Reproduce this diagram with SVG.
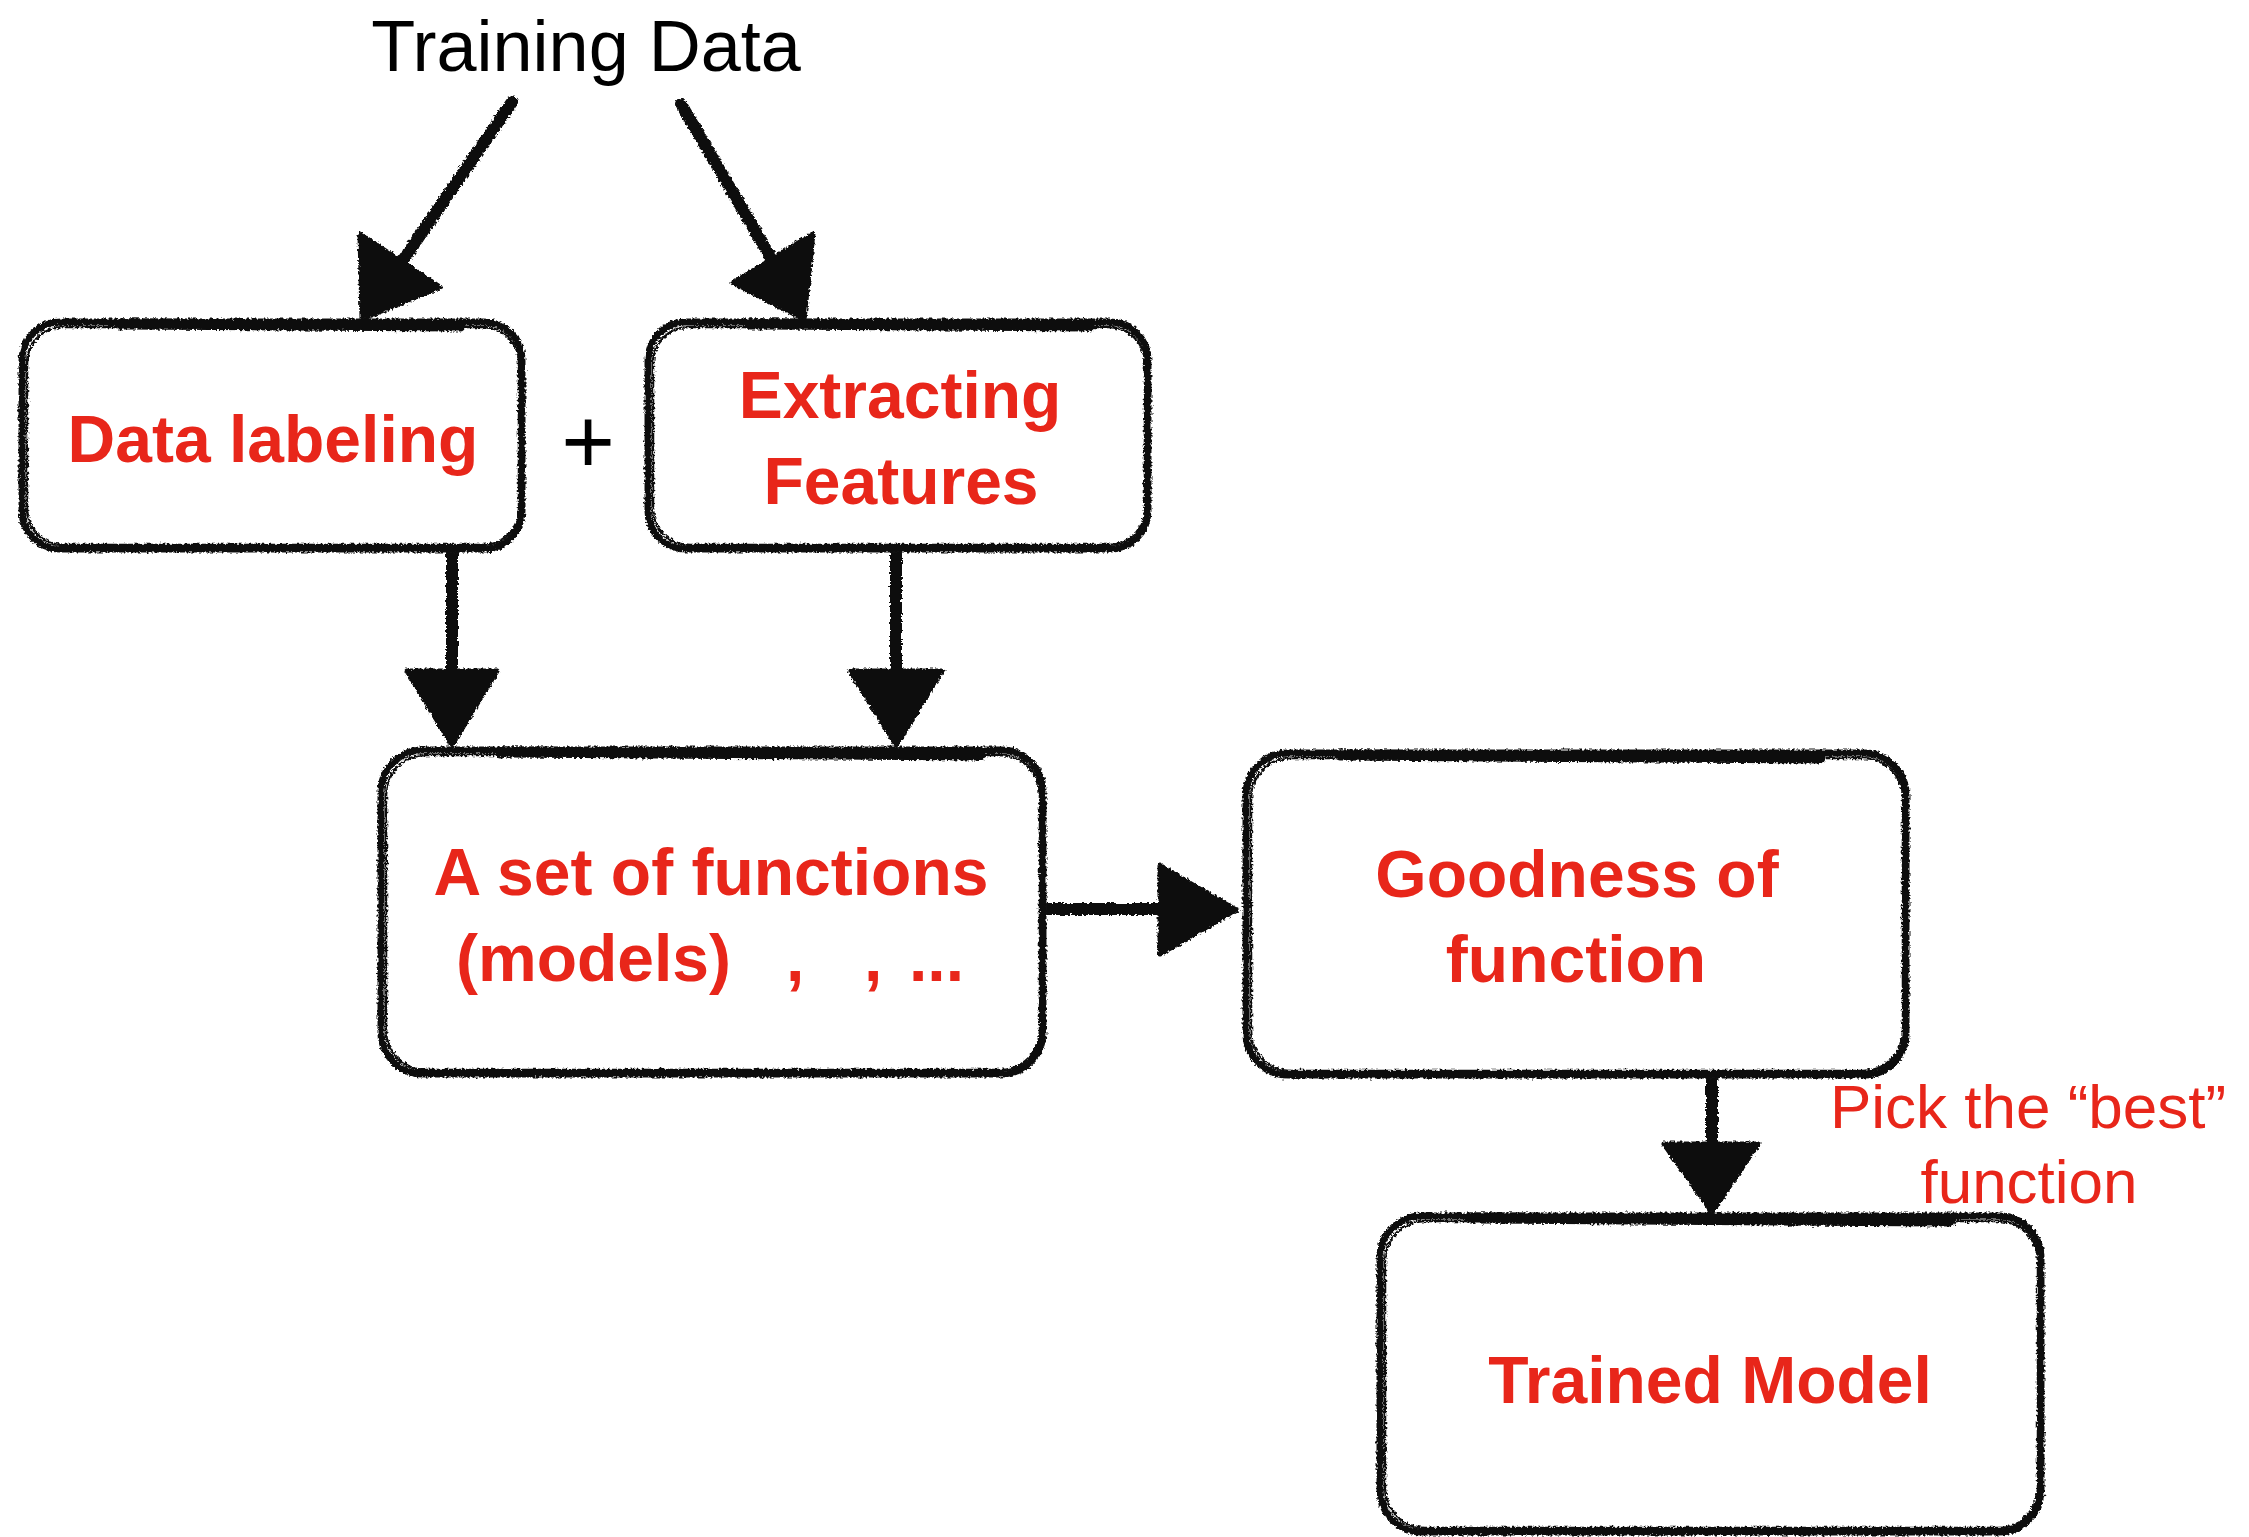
<svg xmlns="http://www.w3.org/2000/svg" width="2249" height="1537" viewBox="0 0 2249 1537">
  <defs>
    <filter id="rough" x="-5%" y="-5%" width="110%" height="110%">
      <feTurbulence type="fractalNoise" baseFrequency="0.4" numOctaves="2" seed="3" result="n"/>
      <feDisplacementMap in="SourceGraphic" in2="n" scale="5" xChannelSelector="R" yChannelSelector="G"/>
    </filter>
  </defs>
  <style>
    .box { fill: none; stroke: #111; stroke-width: 7; }
    .box2 { fill: none; stroke: #111; stroke-width: 2.5; }
    .topedge { fill: none; stroke: #111; stroke-width: 11; stroke-linecap: round; }
    .lbl { font-family: "Liberation Sans", Arial, sans-serif; font-weight: bold; font-size: 66px; fill: #E8261A; text-anchor: middle; }
    .note { font-family: "Liberation Sans", Arial, sans-serif; font-size: 62px; fill: #E8261A; text-anchor: middle; }
    .blk { font-family: "Liberation Sans", Arial, sans-serif; font-size: 72px; fill: #000; text-anchor: middle; }
    .shaft { fill: none; stroke: #111; stroke-width: 12; stroke-linecap: round; }
    .head { fill: #111; stroke: #111; stroke-width: 5; stroke-linejoin: round; }
  </style>
  <rect width="2249" height="1537" fill="#fff"/>

  <text class="blk" x="586" y="71">Training Data</text>
  <text class="blk" x="588" y="473" style="font-size:92px">+</text>

  <g id="connectors" filter="url(#rough)">
    <line class="shaft" x1="512" y1="102" x2="392" y2="276"/>
    <polygon class="head" points="362,319 360,234 440,287"/>
    <line class="shaft" x1="681" y1="104" x2="785" y2="282"/>
    <polygon class="head" points="804,319 813,234 733,283"/>
    <line class="shaft" x1="452" y1="552" x2="452" y2="690"/>
    <polygon class="head" points="407,671 497,671 452,745"/>
    <line class="shaft" x1="896" y1="552" x2="896" y2="690"/>
    <polygon class="head" points="850,671 942,671 896,745"/>
    <line class="shaft" x1="1047" y1="909" x2="1180" y2="909"/>
    <polygon class="head" points="1160,866 1160,954 1236,910"/>
    <line class="shaft" x1="1712" y1="1079" x2="1712" y2="1160"/>
    <polygon class="head" points="1664,1144 1758,1144 1712,1212"/>
  </g>

  <g id="node-data-labeling">
    <g filter="url(#rough)">
      <rect class="box" x="22" y="322" width="500" height="227" rx="38"/>
      <rect class="box2" x="27" y="327" width="492" height="218" rx="36"/>
      <line class="topedge" x1="120" y1="324" x2="460" y2="326"/>
    </g>
    <text class="lbl" x="273" y="462">Data labeling</text>
  </g>

  <g id="node-extracting-features">
    <g filter="url(#rough)">
      <rect class="box" x="648" y="322" width="500" height="227" rx="38"/>
      <rect class="box2" x="653" y="327" width="492" height="218" rx="36"/>
      <line class="topedge" x1="750" y1="324" x2="1090" y2="326"/>
    </g>
    <text class="lbl" x="900" y="418">Extracting</text>
    <text class="lbl" x="901" y="504">Features</text>
  </g>

  <g id="node-set-of-functions">
    <g filter="url(#rough)">
      <rect class="box" x="381" y="750" width="662" height="324" rx="42"/>
      <rect class="box2" x="386" y="755" width="654" height="315" rx="40"/>
      <line class="topedge" x1="500" y1="752" x2="980" y2="755"/>
    </g>
    <text class="lbl" x="711" y="895">A set of functions</text>
    <text class="lbl" style="text-anchor:start" y="981"><tspan x="456">(models)</tspan><tspan x="786">,</tspan><tspan x="864">,</tspan><tspan x="909">...</tspan></text>
  </g>

  <g id="node-goodness">
    <g filter="url(#rough)">
      <rect class="box" x="1246" y="753" width="660" height="322" rx="42"/>
      <rect class="box2" x="1251" y="758" width="652" height="313" rx="40"/>
      <line class="topedge" x1="1340" y1="755" x2="1820" y2="758"/>
    </g>
    <text class="lbl" x="1577" y="897">Goodness of</text>
    <text class="lbl" x="1576" y="982">function</text>
  </g>

  <g id="node-trained-model">
    <g filter="url(#rough)">
      <rect class="box" x="1380" y="1216" width="661" height="316" rx="42"/>
      <rect class="box2" x="1385" y="1221" width="653" height="307" rx="40"/>
      <line class="topedge" x1="1470" y1="1218" x2="1950" y2="1221"/>
    </g>
    <text class="lbl" x="1710" y="1403">Trained Model</text>
  </g>

  <g id="label-pick">
    <text class="note" x="2028" y="1128">Pick the “best”</text>
    <text class="note" x="2029" y="1203">function</text>
  </g>
</svg>
